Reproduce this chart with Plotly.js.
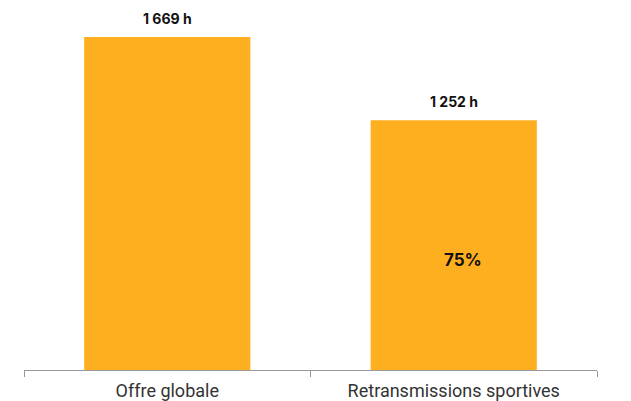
<!DOCTYPE html>
<html>
<head>
<meta charset="utf-8">
<script src="https://cdn.plot.ly/plotly-3.0.1.min.js"></script>
<style>html,body{margin:0;padding:0;background:#fff;}#chart{width:631px;height:401px;}</style>
</head>
<body>
<div id="chart"></div>
<script>
const categories = ["Offre globale", "Retransmissions sportives"];
const values = [1669, 1252];
const valueLabels = ["1 669 h", "1 252 h"];
const shareLabels = ["", "75%"];

const annotations = [];
categories.forEach((c, i) => {
  annotations.push({
    x: c, y: values[i], text: "<b>" + valueLabels[i] + "</b>",
    showarrow: false, yanchor: "bottom", yshift: 8,
    font: {family: "Inter, Roboto, sans-serif", size: 14, color: "#111"}
  });
  if (shareLabels[i]) {
    annotations.push({
      x: c, y: values[i] * 0.44, text: "<b>" + shareLabels[i] + "</b>",
      showarrow: false, yanchor: "middle", xshift: 9,
      font: {family: "Inter, Roboto, sans-serif", size: 17, color: "#111"}
    });
  }
});

Plotly.newPlot("chart", [{
  type: "bar", x: categories, y: values,
  marker: {color: "#FDAF1F"}, hoverinfo: "none"
}], {
  width: 631, height: 401,
  margin: {l: 24, r: 34, t: 10, b: 31},
  paper_bgcolor: "#fff", plot_bgcolor: "#fff",
  bargap: 0.42,
  showlegend: false,
  xaxis: {
    type: "category", showline: true, linecolor: "#999", linewidth: 1,
    ticks: "outside", tickson: "boundaries", ticklen: 6, tickcolor: "#999",
    ticklabelstandoff: 4,
    tickfont: {family: "Roboto, sans-serif", size: 18, color: "#333"},
    showgrid: false, zeroline: false, fixedrange: true
  },
  yaxis: {
    visible: false, range: [0, 1805], showgrid: false, zeroline: false
  },
  annotations: annotations
}, {displayModeBar: false, staticPlot: true});
</script>
</body>
</html>
